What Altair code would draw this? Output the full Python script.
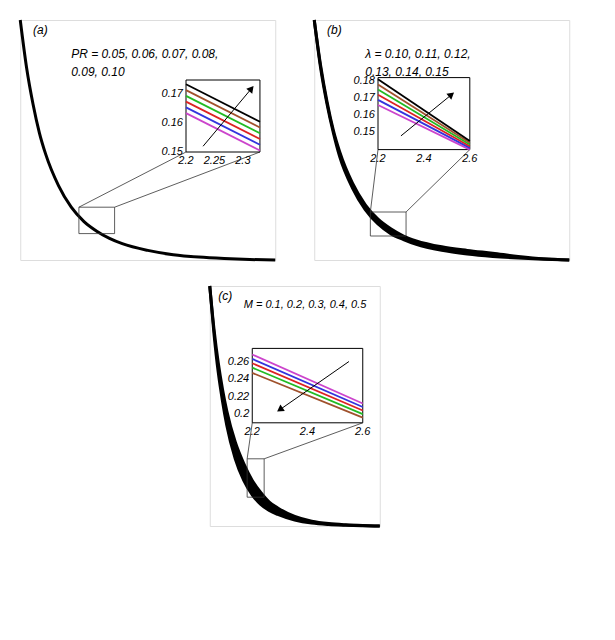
import math
import altair as alt
import pandas as pd

FONT = "Liberation Sans"

# main decay curve
zeta = [0, 0.25, 0.5, 0.75, 1, 1.5, 2, 2.5, 3, 3.5, 4, 5, 6, 7, 8, 9, 10]
g_a = [1, 0.80, 0.65, 0.53, 0.44, 0.31, 0.22, 0.16, 0.12, 0.09, 0.068, 0.04, 0.022, 0.012, 0.006, 0.002, 0]
g_b_lo = [1, 0.80, 0.65, 0.53, 0.43, 0.30, 0.21, 0.15, 0.11, 0.085, 0.065, 0.04, 0.025, 0.015, 0.008, 0.003, 0]
g_b_hi = [1, 0.81, 0.66, 0.54, 0.45, 0.32, 0.23, 0.17, 0.13, 0.10, 0.08, 0.055, 0.04, 0.028, 0.015, 0.005, 0]
g_c_lo = [1, 0.80, 0.64, 0.52, 0.42, 0.28, 0.19, 0.13, 0.09, 0.065, 0.048, 0.025, 0.012, 0.006, 0.003, 0.001, 0]
g_c_hi = [1, 0.82, 0.68, 0.57, 0.48, 0.35, 0.26, 0.19, 0.14, 0.10, 0.075, 0.04, 0.02, 0.01, 0.005, 0.002, 0]

colors6 = ["#cc44cc", "#3333dd", "#dd2222", "#22bb22", "#a0522d", "#000000"]
colors5 = ["#cc44cc", "#3333dd", "#dd2222", "#22bb22", "#000000"]

# inset line endpoints (x range, start y per line, end y per line)
in_a = dict(x=[2.2, 2.33], y0=[0.1635, 0.1655, 0.1675, 0.1695, 0.1715, 0.1735], y1=[0.1505, 0.1525, 0.1545, 0.1565, 0.1585, 0.1605])
in_b = dict(x=[2.2, 2.6], y0=[0.166, 0.169, 0.172, 0.175, 0.178, 0.181], y1=[0.140, 0.141, 0.142, 0.143, 0.144, 0.145])
in_c = dict(x=[2.2, 2.6], y0=[0.268, 0.263, 0.258, 0.253, 0.247], y1=[0.212, 0.208, 0.204, 0.200, 0.196])


def panel(label, ptext, main_curves, band, inset, colors, xdom, ydom, xticks, yticks,
          box, ibox, arrow, W, H, fs=12):
    main = pd.concat([pd.DataFrame({"z": zeta, "g": c, "s": str(i)}) for i, c in enumerate(main_curves)])
    xs = alt.Scale(domain=[0, 10], nice=False)
    ys = alt.Scale(domain=[0, 1], nice=False)
    base = alt.Chart(main).mark_line(color="black", strokeWidth=3, interpolate="monotone").encode(
        x=alt.X("z:Q", scale=xs, title="ζ", axis=alt.Axis(values=[0, 5, 10], grid=False, format="d")),
        y=alt.Y("g:Q", scale=ys, title="g '( ζ )", axis=alt.Axis(values=[0, 0.2, 0.4, 0.6, 0.8, 1], grid=False)),
        detail="s:N",
    )
    layers = [base]
    X = lambda f: alt.X(f, scale=xs, axis=None)
    Y = lambda f: alt.Y(f, scale=ys, axis=None)
    if band:
        bd = pd.DataFrame({"z": zeta, "lo": main_curves[0], "hi": main_curves[1]})
        layers.append(alt.Chart(bd).mark_area(color="black", interpolate="monotone").encode(
            x=X("z:Q"), y=Y("lo:Q"), y2="hi:Q"))
    bx = pd.DataFrame({"x": [box[0]], "x2": [box[1]], "y": [box[2]], "y2": [box[3]]})
    layers.append(alt.Chart(bx).mark_rect(fillOpacity=0, stroke="#333", strokeWidth=0.8).encode(
        x=X("x:Q"), x2="x2", y=Y("y:Q"), y2="y2"))
    conn = pd.DataFrame({"x": [box[0], box[1]], "y": [box[3], box[3]],
                         "x2": [ibox[0], ibox[1]], "y2": [ibox[2], ibox[2]]})
    layers.append(alt.Chart(conn).mark_rule(color="#333", strokeWidth=0.8).encode(
        x=X("x:Q"), x2="x2", y=Y("y:Q"), y2="y2"))
    layers.append(alt.Chart(pd.DataFrame({"x": [ibox[0]], "x2": [ibox[1]], "y": [ibox[2]], "y2": [ibox[3]]}))
                  .mark_rect(fill="white", stroke="black", strokeWidth=1).encode(
        x=X("x:Q"), x2="x2", y=Y("y:Q"), y2="y2"))
    lab = pd.DataFrame({"x": [0.5], "y": [0.96], "t": [label]})
    layers.append(alt.Chart(lab).mark_text(align="left", fontStyle="italic", fontSize=12, font=FONT).encode(
        x=X("x:Q"), y=Y("y:Q"), text="t"))
    pt = pd.DataFrame({"x": [ptext[0]] * len(ptext[2]),
                       "y": [ptext[1] - 0.075 * i for i in range(len(ptext[2]))], "t": ptext[2]})
    layers.append(alt.Chart(pt).mark_text(align="left", fontStyle="italic", fontSize=fs, font=FONT).encode(
        x=X("x:Q"), y=Y("y:Q"), text="t"))
    main_layer = alt.layer(*layers)

    # inset scales mapped onto the inset box in pixels
    px = [ibox[0] / 10 * W, ibox[1] / 10 * W]
    py = [(1 - ibox[3]) * H, (1 - ibox[2]) * H]
    ixs = alt.Scale(domain=xdom, range=px, nice=False, zero=False)
    iys = alt.Scale(domain=ydom, range=[py[1], py[0]], nice=False, zero=False)
    IX = lambda f: alt.X(f, scale=ixs, axis=None)
    IY = lambda f: alt.Y(f, scale=iys, axis=None)
    rows = []
    for i in range(len(colors)):
        rows.append({"x": inset["x"][0], "y": inset["y0"][i], "s": i})
        rows.append({"x": inset["x"][1], "y": inset["y1"][i], "s": i})
    idf = pd.DataFrame(rows)
    ilayers = [alt.Chart(idf).mark_line(strokeWidth=1.8).encode(
        x=IX("x:Q"), y=IY("y:Q"),
        color=alt.Color("s:N", scale=alt.Scale(domain=list(range(len(colors))), range=colors), legend=None))]
    xl = pd.DataFrame({"x": xticks, "y": [ydom[0]] * len(xticks), "t": [str(v) for v in xticks]})
    ilayers.append(alt.Chart(xl).mark_text(baseline="top", dy=3, fontStyle="italic", fontSize=11, font=FONT).encode(
        x=IX("x:Q"), y=IY("y:Q"), text="t"))
    yl = pd.DataFrame({"x": [xdom[0]] * len(yticks), "y": yticks, "t": [str(v) for v in yticks]})
    ilayers.append(alt.Chart(yl).mark_text(align="right", dx=-3, fontStyle="italic", fontSize=11, font=FONT).encode(
        x=IX("x:Q"), y=IY("y:Q"), text="t"))
    (ax0, ay0), (ax1, ay1) = arrow
    ar = pd.DataFrame({"x": [ax0], "y": [ay0], "x2": [ax1], "y2": [ay1]})
    ilayers.append(alt.Chart(ar).mark_rule(color="black", strokeWidth=1).encode(
        x=IX("x:Q"), x2="x2", y=IY("y:Q"), y2="y2"))
    dxp = (ax1 - ax0) / (xdom[1] - xdom[0]) * (px[1] - px[0])
    dyp = -(ay1 - ay0) / (ydom[1] - ydom[0]) * (py[1] - py[0])
    ang = math.degrees(math.atan2(dxp, -dyp)) % 360
    ilayers.append(alt.Chart(pd.DataFrame({"x": [ax1], "y": [ay1]})).mark_point(
        shape="triangle-up", filled=True, color="black", size=60, angle=ang, opacity=1).encode(
        x=IX("x:Q"), y=IY("y:Q")))
    inset_layer = alt.layer(*ilayers)

    return alt.layer(main_layer, inset_layer).resolve_scale(
        x="independent", y="independent").properties(width=W, height=H)


pa = panel("(a)", (2.0, 0.86, ["PR = 0.05, 0.06, 0.07, 0.08,", "0.09, 0.10"]), [g_a], False, in_a, colors6,
           [2.2, 2.33], [0.15, 0.175], [2.2, 2.25, 2.3], [0.15, 0.16, 0.17], (2.3, 3.7, 0.11, 0.22),
           (6.5, 9.4, 0.45, 0.75), ((2.23, 0.152), (2.315, 0.172)), 255, 240)
pb = panel("(b)", (2.0, 0.86, ["λ = 0.10, 0.11, 0.12,", "0.13, 0.14, 0.15"]), [g_b_lo, g_b_hi], True, in_b, colors6,
           [2.2, 2.6], [0.14, 0.182], [2.2, 2.4, 2.6], [0.15, 0.16, 0.17, 0.18], (2.2, 3.6, 0.10, 0.20),
           (2.5, 6.1, 0.46, 0.76), ((2.3, 0.148), (2.52, 0.172)), 255, 240)
pc = panel("(c)", (2.0, 0.92, ["M = 0.1, 0.2, 0.3, 0.4, 0.5"]), [g_c_lo, g_c_hi], True, in_c, colors5,
           [2.2, 2.6], [0.19, 0.275], [2.2, 2.4, 2.6], [0.2, 0.22, 0.24, 0.26], (2.2, 3.2, 0.12, 0.28),
           (2.5, 9.0, 0.43, 0.74), ((2.55, 0.26), (2.3, 0.205)), 170, 240, fs=11)

chart = alt.vconcat(alt.hconcat(pa, pb, spacing=25), pc, center=True, spacing=12).configure_view(
    stroke="black").configure_axis(labelFont=FONT, titleFont=FONT, labelFontStyle="italic", titleFontStyle="italic",
                                   labelFontSize=13, titleFontSize=14, labelColor="black", titleColor="black",
                                   domainColor="black", tickColor="black").configure(background="white")
chart.save("out.html", embed_options={"renderer": "svg", "actions": False})
